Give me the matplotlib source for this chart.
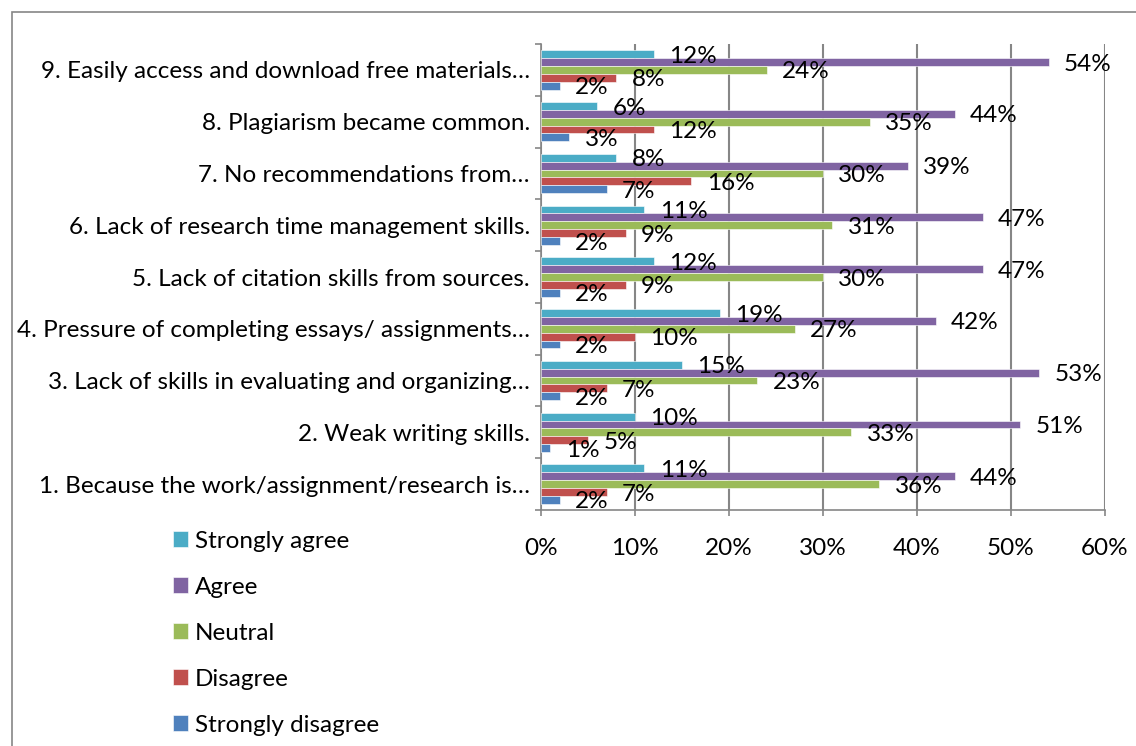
import numpy as np
import matplotlib
matplotlib.use("Agg")
import matplotlib.pyplot as plt
from matplotlib.patches import Patch, Rectangle
from matplotlib.ticker import FixedLocator, PercentFormatter

plt.rcParams['font.family'] = ['Lato', 'DejaVu Sans']

# Категории снизу вверх (как в Excel)
categories = [
    "1. Because the work/assignment/research is\u2026",
    "2. Weak writing skills.",
    "3. Lack of skills in evaluating and organizing\u2026",
    "4. Pressure of completing essays/ assignments\u2026",
    "5. Lack of citation skills from sources.",
    "6. Lack of research time management skills.",
    "7. No recommendations from\u2026",
    "8. Plagiarism became common.",
    "9. Easily access and download free materials\u2026",
]

series_names = ["Strongly agree", "Agree", "Neutral", "Disagree", "Strongly disagree"]
strongly_agree = [11, 10, 15, 19, 12, 11, 8, 6, 12]
agree = [44, 51, 53, 42, 47, 47, 39, 44, 54]
neutral = [36, 33, 23, 27, 30, 31, 30, 35, 24]
disagree = [7, 5, 7, 10, 9, 9, 16, 12, 8]
strongly_disagree = [2, 1, 2, 2, 2, 2, 7, 3, 2]
colors = ["#4BACC6", "#8064A2", "#9BBB59", "#C0504D", "#4F81BD"]

series = [strongly_agree, agree, neutral, disagree, strongly_disagree]

fig = plt.figure(figsize=(11.36, 7.46), dpi=100)
ax = fig.add_axes([541 / 1136, 1 - 510 / 746, (1105 - 541) / 1136, (510 - 44) / 746])

y = np.arange(len(categories))
h = 0.152
fs = 17.5

for i, (vals, col) in enumerate(zip(series, colors)):
    pos = y + (2 - i) * h
    ax.barh(pos, vals, height=h, color=col, edgecolor="white", linewidth=0.4, zorder=3)
    for p, v in zip(pos, vals):
        ax.annotate(f"{v}%", (v, p), xytext=(11, -1.5), textcoords="offset points",
                    ha="left", va="center", fontsize=fs, zorder=4)

ax.set_xlim(0, 60)
ax.set_ylim(-0.5, len(categories) - 0.5)
ax.xaxis.set_major_locator(FixedLocator([0, 10, 20, 30, 40, 50, 60]))
ax.xaxis.set_major_formatter(PercentFormatter(decimals=0))
ax.set_yticks(y)
ax.set_yticklabels(categories)
ax.yaxis.set_minor_locator(FixedLocator(np.arange(-0.5, len(categories), 1)))

gray = "#868686"
ax.grid(axis="x", color=gray, linewidth=1.5, zorder=0)
for s in ["top", "right"]:
    ax.spines[s].set_visible(False)
for s in ["left", "bottom"]:
    ax.spines[s].set_color(gray)
    ax.spines[s].set_linewidth(1.2)

ax.tick_params(axis="y", which="major", length=0, pad=8, labelsize=fs)
ax.tick_params(axis="y", which="minor", length=4.5, color=gray, width=1.2)
ax.tick_params(axis="x", which="major", length=4.5, color=gray, width=1.2, pad=16, labelsize=fs)

handles = [Patch(facecolor=c, edgecolor="white", linewidth=0.4) for c in colors]
fig.legend(handles, series_names, loc="upper left",
           bbox_to_anchor=(163 / 1136, 1 - 521 / 746), frameon=False, fontsize=fs,
           handlelength=0.62, handleheight=0.62, handletextpad=0.29, labelspacing=1.03,
           borderaxespad=0)

fig.patches.append(Rectangle((12 / 1136, -0.2), 1.2, 1.2 - 12 / 746,
                             transform=fig.transFigure, fill=False,
                             edgecolor=gray, linewidth=1.2))

fig.savefig("out.png", dpi=100)
